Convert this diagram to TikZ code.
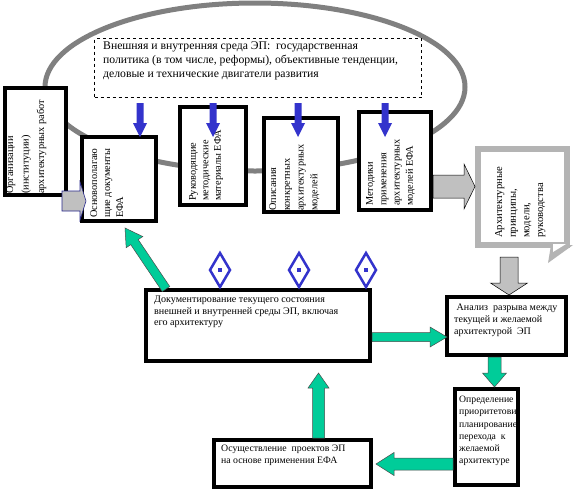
\documentclass[tikz,border=0pt]{standalone}
\usepackage{fontspec}
\setmainfont{Liberation Serif}
\usetikzlibrary{calc}
\definecolor{ellgray}{RGB}{128,128,128}
\definecolor{argray}{RGB}{192,192,192}
\definecolor{fgray}{RGB}{180,180,180}
\definecolor{bblue}{RGB}{51,51,204}
\definecolor{tgreen}{RGB}{0,204,153}
\definecolor{navyline}{RGB}{40,40,140}
% block arrow: #1 style, #2 tail, #3 tip, #4 shaft half width, #5 head half width, #6 head length
\newcommand\barrow[6]{%
  \coordinate (tmpc) at ($(#3)!#6!(#2)$);
  \path[#1] ($(#2)!#4!90:(#3)$) -- ($(tmpc)!#4!-90:(#2)$) -- ($(tmpc)!#5!-90:(#2)$) -- (#3)
    -- ($(tmpc)!#5!90:(#2)$) -- ($(tmpc)!#4!90:(#2)$) -- ($(#2)!#4!-90:(#3)$) -- cycle;}
\begin{document}
\begin{tikzpicture}[x=1pt,y=-1pt,
  box/.style={draw=black, line width=4pt, fill=white, inner sep=0pt},
  rtext/.style={rotate=90, anchor=north west, inner sep=0pt, align=left},
  htext/.style={anchor=north west, inner sep=0pt, align=left, font=\fontsize{9.5}{12}\selectfont},
  garrow/.style={fill=tgreen, draw=black!70, line width=0.5pt},
  grarrow/.style={fill=argray, draw=black, line width=0.5pt},
  blarrow/.style={fill=bblue},
  dmark/.style={draw=bblue, line width=2.5pt, fill=white}]
\useasboundingbox (0,0) rectangle (580,491);
\fill[white] (0,0) rectangle (580,491);
% big grey loop
\draw[ellgray, line width=5pt] (255,87) ellipse [x radius=210, y radius=84];
% environment (dashed)
\node[draw=black, dashed, line width=0.7pt, fill=white, minimum width=327pt, minimum height=59pt, inner sep=0pt] (env) at (258,68) {};
\node[anchor=north west, inner sep=0pt, align=left, font=\fontsize{11.7}{14}\selectfont] (envt) at (103,41.5)
  {Внешняя и внутренняя среда ЭП:\ \ государственная\\политика (в том числе, реформы), объективные тенденции,\\деловые и технические двигатели развития};
% top row boxes
\node[box, minimum width=61pt, minimum height=107pt] (A) at (35.5,141.5) {};
\node[box, minimum width=74pt, minimum height=84pt] (B) at (119,179) {};
\node[box, minimum width=66pt, minimum height=98pt] (C) at (213,156) {};
\node[box, minimum width=74pt, minimum height=94pt] (D) at (301,165) {};
\node[box, minimum width=72pt, minimum height=98pt] (E) at (395,161) {};
\node[draw=fgray, line width=6pt, fill=white, inner sep=0pt, minimum width=89pt, minimum height=96pt] (F) at (522.5,197) {};
\fill[fgray] (551,245) -- (573,245) -- (548,263) -- cycle;
\fill[white] (553,244) -- (566,244) -- (553,252) -- cycle;
% rotated texts
\node[rtext, font=\fontsize{10.3}{15.5}\selectfont] (At) at (6,194) {Организации\\(институции)\\архитектурных работ};
\node[rtext, font=\fontsize{10.3}{13}\selectfont] (Bt) at (90,218) {Основополагаю\\щие документы\\ЕФА};
\node[rtext, font=\fontsize{10.3}{12.5}\selectfont] (Ct) at (189,201) {Руководящие\\методические\\материалы ЕФА};
\node[rtext, font=\fontsize{10.3}{13.8}\selectfont] (Dt) at (269,211) {Описания\\конкретных\\архитектурных\\моделей};
\node[rtext, font=\fontsize{10.3}{13.3}\selectfont] (Et) at (366,206) {Методики\\применения\\архитектурных\\моделей ЕФА};
\node[rtext, font=\fontsize{10.6}{13.6}\selectfont] (Ft) at (495,238) {Архитектурные\\принципы,\\модели,\\руководства};
% lower boxes
\node[box, minimum width=224pt, minimum height=71pt] (G) at (258,325.5) {};
\node[box, minimum width=119pt, minimum height=58pt] (H) at (506.5,326) {};
\node[box, minimum width=63pt, minimum height=96pt] (I) at (486.5,437) {};
\node[box, minimum width=157pt, minimum height=47pt] (J) at (292.5,463.5) {};
\node[htext, font=\fontsize{10.1}{11.5}\selectfont] (Gt) at (154,296) {Документирование текущего состояния\\внешней и внутренней среды ЭП, включая\\его архитектуру};
\node[htext, font=\fontsize{10}{11.8}\selectfont] (Ht) at (454,304) {\ Анализ\ \ разрыва между\\текущей и желаемой\\архитектурой\ \ ЭП};
\node[htext, font=\fontsize{9.7}{12.2}\selectfont] (It) at (459,396) {Определение\\приоритетови\\планирование\\перехода\ \ к\\желаемой\\архитектуре};
\node[htext, font=\fontsize{9.8}{11.5}\selectfont] (Jt) at (221,445) {Осуществление\ \ проектов ЭП\\на основе применения ЕФА};
% blue arrows from environment
\foreach \xx/\nm in {140/B,213/C,298/D,385/E}{
  \coordinate (bt\nm) at (\xx,103);
  \coordinate (bh\nm) at (\xx,137);
  \barrow{blarrow}{bt\nm}{bh\nm}{3.5pt}{7pt}{14pt}
}
% blue diamonds
\foreach \xx in {220,299,366}{
  \draw[dmark] (\xx,253) -- (\xx+10,270) -- (\xx,287) -- (\xx-10,270) -- cycle;
  \fill[bblue] (\xx-2,268) rectangle (\xx+2,272);
}
% grey block arrows
\coordinate (ab1) at (62,201);
\coordinate (ab2) at ($(B.west)+(6,22)$);
\barrow{fill=argray, draw=navyline, line width=0.6pt}{ab1}{ab2}{10pt}{19pt}{6pt}
\coordinate (ef1) at ($(E.east)+(0,25.5)$);
\coordinate (ef2) at ($(F.west)+(0,-10.5)$);
\barrow{grarrow}{ef1}{ef2}{11.5pt}{22.5pt}{11pt}
\coordinate (fh1) at (509,257);
\coordinate (fh2) at ($(H.north)+(2.5,0)$);
\barrow{grarrow}{fh1}{fh2}{9pt}{18.5pt}{12pt}
% green block arrows
\coordinate (gb1) at ($(G.north west)+(22,1)$);
\coordinate (gb2) at ($(B.south)+(6,5)$);
\barrow{garrow}{gb1}{gb2}{4.5pt}{10pt}{17pt}
\coordinate (gh1) at ($(G.east)+(0,11.5)$);
\coordinate (gh2) at ($(H.west)+(2,11)$);
\barrow{garrow}{gh1}{gh2}{4.5pt}{10pt}{17pt}
\coordinate (hi1) at ($(H.south)+(-12,0)$);
\coordinate (hi2) at ($(I.north)+(8,0)$);
\barrow{garrow}{hi1}{hi2}{6.5pt}{12pt}{14pt}
\coordinate (ij1) at ($(I.west)+(0,27)$);
\coordinate (ij2) at ($(J.east)+(3,0.5)$);
\barrow{garrow}{ij1}{ij2}{6pt}{11.5pt}{18pt}
\coordinate (jg1) at ($(J.north)+(26,0)$);
\coordinate (jg2) at ($(G.south)+(60.5,10)$);
\barrow{garrow}{jg1}{jg2}{6pt}{10.5pt}{15pt}
\end{tikzpicture}
\end{document}
